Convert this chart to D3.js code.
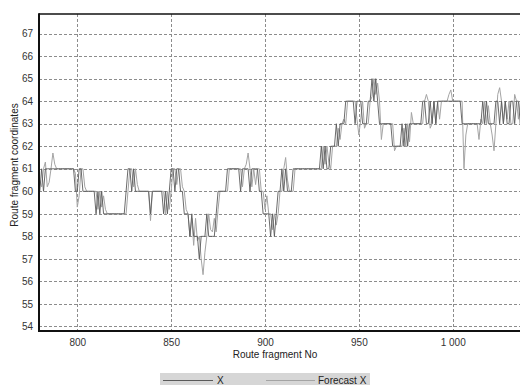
<!DOCTYPE html>
<html><head><meta charset="utf-8">
<script src="https://cdn.jsdelivr.net/npm/d3@7"></script>
<style>body{margin:0;background:#fff}svg{display:block}text{font-family:"Liberation Sans",Arial,sans-serif}</style>
</head><body>
<svg id="c" width="520" height="385"></svg>
<script>
const xStart = 780;
const xValues = [
60,61,60,61,61,61,61,61,61,61, 61,61,61,61,61,61,61,61,61,60, // 780-799
60,61,61,60,60,60,60,60,60,60, 59,60,59,60,59,59,59,59,59,59, // 800-819
59,59,59,59,59,59,60,61,61,60, 61,60,60,60,60,60,60,60,60,59, // 820-839
60,60,60,60,60,60,59,60,59,60, 61,61,60,61,61,60,60,59,59,59, // 840-859
58,59,58,58,58,57,58,58,58,59, 58,58,58,58,59,60,60,60,60,60, // 860-879
61,61,61,61,61,61,61,60,61,61, 61,61,60,61,61,61,61,60,60,59, // 880-899
59,59,59,58,59,58,59,60,60,61, 60,61,60,60,60,61,61,61,61,61, // 900-919
61,61,61,61,61,61,61,61,61,61, 62,61,62,61,61,62,62,62,63,62, // 920-939
63,63,63,64,64,64,64,64,63,64, 64,64,63,63,63,64,64,65,64,65, // 940-959
64,63,63,63,63,63,63,63,62,62, 62,62,62,63,62,63,62,63,63,63, // 960-979
63,63,63,63,64,64,63,63,64,63, 64,63,64,64,64,64,64,64,64,64, // 980-999
64,64,64,64,64,63,63,63,63,63, 63,63,63,63,63,63,64,63,64,63, // 1000-1019
63,63,63,64,64,63,64,63,64,63, 63,64,64,63,64,64,63,64,64     // 1020-1038
];
const forecastValues = [
60.5,60.2,61.0,61.3,60.2,60.4,61.0,61.7,61.2,61, 61,61,61,61,61,61,61,61,61,60.8, // 780-799
59.3,59.8,61.0,61,60.2,60,60,60,60,60, 60,59.2,60,59.3,59.8,59.2,59,59,59,59, // 800-819
59,59,59,59,59,59,59,60,61,61, 60.2,61,60.3,60,60,60,60,60,60,58.7, // 820-839
60,60,60,60,60,60,60,59,60,59.2, 60,61,61,60.3,61,61,60.2,60,59.2,59, // 840-859
58,58.8,57.6,58.8,57.8,58,57,56.3,57.3,58, 59,58.3,58.2,58.8,58.2,59.2,60,60,60,60, // 860-879
60,61,61,61,61,61,61,61,60.2,61, 61.2,61.7,61,60.2,61,60.3,61,61,60,60, // 880-899
59.2,59.8,59,59,58.3,59,58.5,59,60,60, 61,61.5,60.5,60,60,60,61,61,61,61, // 900-919
61,61,61,61,61,61,61,61,61,61, 61,62,61.2,62,61.3,61,62,62,62,62.8, // 920-939
62.3,63,63.2,63,64,64,64,64,64,63.2, 62.5,63.2,64,62.8,63,63,64,64.2,65,64.3, // 940-959
64.8,64,62.3,63,63,63,63,63,63,61.8, 62,62,62,62,62.8,62,63,62.2,63.5,63, // 960-979
63,63,63,63,63,64,64.3,64,62.8,63, 64,63,64,63.2,64,64,64,64,64.3,64.5, // 980-999
64,64,64,64,64,64,61,62.5,63,63, 63,63,63,63,62.3,63.2,63,64,63,63.8, // 1000-1019
63,62.5,61.8,63,64.3,64.6,64,63,64,63.2, 64,63,63,64.3,64,63.2,64,64.2,63   // 1020-1038
];
const xTicks = [800, 850, 900, 950, 1000];
const yTicks = [54,55,56,57,58,59,60,61,62,63,64,65,66,67];
const seriesNames = ["X", "Forecast X"];
const seriesColors = ["#5a5a5a", "#a4a4a4"];

const svg = d3.select("#c");
const L = 39, T = 14, B = 331;
const x = d3.scaleLinear().domain([779.6, 1040]).range([L, 527.8]);
const y = d3.scaleLinear().domain([53.8, 67.87]).range([B, T]);
const R = 527.8;

const fmt = d => d >= 1000 ? d3.format(",")(d).replace(",", " ") : String(d);

// grid
const g = svg.append("g");
g.selectAll(".gy").data(yTicks).join("line")
  .attr("x1", L).attr("x2", R).attr("y1", d => Math.round(y(d)) + 0.5).attr("y2", d => Math.round(y(d)) + 0.5)
  .attr("stroke", "#8c8c8c").attr("stroke-dasharray", "3,2");
g.selectAll(".gx").data(xTicks).join("line")
  .attr("y1", T).attr("y2", B).attr("x1", d => Math.round(x(d)) + 0.5).attr("x2", d => Math.round(x(d)) + 0.5)
  .attr("stroke", "#8c8c8c").attr("stroke-dasharray", "3,2");

// data
const fData = forecastValues.map((v, i) => [xStart + i, v]);
const xData = xValues.map((v, i) => [xStart + i, v]);
const line = d3.line().x(d => x(d[0])).y(d => y(d[1]));
svg.append("path").datum(fData).attr("d", line).attr("fill", "none")
  .attr("stroke", seriesColors[1]).attr("stroke-width", 1);
svg.append("path").datum(xData).attr("d", line).attr("fill", "none")
  .attr("stroke", seriesColors[0]).attr("stroke-width", 0.9);

// axes frame
svg.append("line").attr("x1", L).attr("x2", R).attr("y1", T).attr("y2", T).attr("stroke", "#111").attr("stroke-width", 1.6);
svg.append("line").attr("x1", L).attr("x2", L).attr("y1", T - 0.8).attr("y2", B + 1).attr("stroke", "#111").attr("stroke-width", 2);
svg.append("line").attr("x1", L - 1).attr("x2", R).attr("y1", B).attr("y2", B).attr("stroke", "#111").attr("stroke-width", 2);

const ax = svg.append("g").attr("transform", `translate(0,${B})`)
  .call(d3.axisBottom(x).tickValues(xTicks).tickFormat(fmt).tickSize(0).tickPadding(8));
ax.select(".domain").remove();
ax.selectAll("text").attr("font-size", 10).attr("fill", "#333").attr("font-family", "Liberation Sans, Arial, sans-serif");
const ay = svg.append("g").attr("transform", `translate(${L},0)`)
  .call(d3.axisLeft(y).tickValues(yTicks).tickSize(0).tickPadding(6));
ay.select(".domain").remove();
ay.selectAll("text").attr("font-size", 10).attr("fill", "#333").attr("font-family", "Liberation Sans, Arial, sans-serif");

svg.append("text").attr("x", 275).attr("y", 358).attr("text-anchor", "middle")
  .attr("font-size", 10).attr("fill", "#222").text("Route fragment No");
svg.append("text").attr("transform", "translate(18,165) rotate(-90)").attr("text-anchor", "middle")
  .attr("font-size", 10).attr("fill", "#222").text("Route fragment coordinates");

// legend
svg.append("rect").attr("x", 160).attr("y", 373).attr("width", 210).attr("height", 20).attr("fill", "#d6d6d6");
const leg = [{x1: 163, x2: 213, tx: 217}, {x1: 266, x2: 315, tx: 318}];
leg.forEach((l, i) => {
  svg.append("line").attr("x1", l.x1).attr("x2", l.x2).attr("y1", 380.5).attr("y2", 380.5)
    .attr("stroke", seriesColors[i]).attr("stroke-width", 1);
  svg.append("text").attr("x", l.tx).attr("y", 384).attr("font-size", 10).attr("fill", "#222").text(seriesNames[i]);
});
</script>
</body></html>
